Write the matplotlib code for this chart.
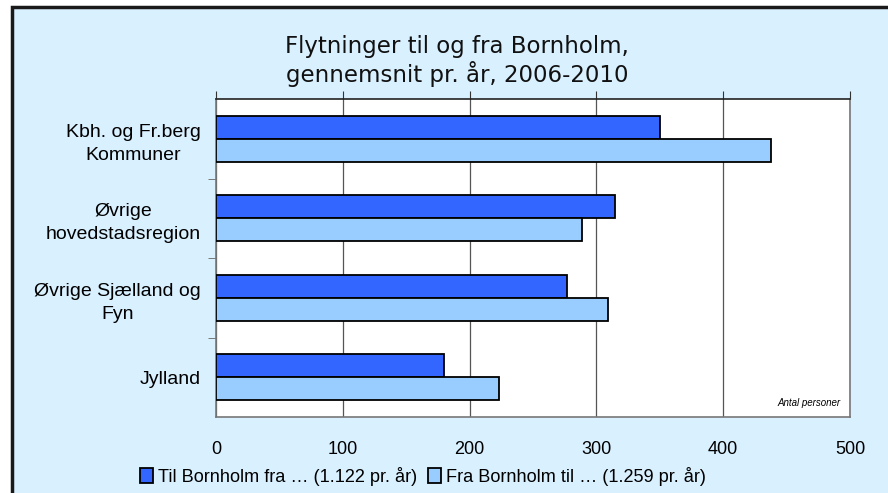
import matplotlib.pyplot as plt
import numpy as np
from matplotlib.patches import Rectangle

# data
kategorier = ["Kbh. og Fr.berg\nKommuner", "Øvrige\nhovedstadsregion",
              "Øvrige Sjælland og\nFyn", "Jylland"]
til_bornholm = [350, 315, 277, 180]
fra_bornholm = [438, 289, 309, 223]
serie_navne = ["Til Bornholm fra … (1.122 pr. år)", "Fra Bornholm til … (1.259 pr. år)"]
x_ticks = [0, 100, 200, 300, 400, 500]

plt.rcParams['font.family'] = ['Liberation Sans', 'DejaVu Sans']

fig = plt.figure(figsize=(8.88, 4.93), dpi=100, facecolor='white')
# baggrund med ramme
fig.patches.append(Rectangle((12/888, -0.1), 1.2, 1 - 7/493 + 0.1, transform=fig.transFigure,
                             facecolor='#D9F0FF', edgecolor='#1a1a1a', linewidth=2.5, zorder=-5))

ax = fig.add_axes([216/888, 1 - 417/493, (850-216)/888, (417-99)/493])
ax.set_facecolor('white')

y = np.arange(len(kategorier))
h = 0.29
ax.barh(y - h/2, til_bornholm, height=h, color='#3366FF', edgecolor='black', linewidth=1.3,
        label=serie_navne[0], zorder=3)
ax.barh(y + h/2, fra_bornholm, height=h, color='#99CCFF', edgecolor='black', linewidth=1.3,
        label=serie_navne[1], zorder=3)

ax.set_xlim(0, 500)
ax.set_ylim(len(kategorier) - 0.5, -0.5)
ax.set_xticks(x_ticks)
ax.xaxis.grid(True, color='#555555', linewidth=0.9, zorder=1)
ax.set_axisbelow(True)

# akse i toppen med streger, tal i bunden
ax.tick_params(axis='x', which='both', top=True, bottom=False, labeltop=False, labelbottom=True,
               direction='out', length=6, color='#333333', pad=11, labelsize=13)
ax.set_yticks(y)
ax.set_yticklabels(kategorier, fontsize=14, multialignment='center', linespacing=1.45)
ax.tick_params(axis='y', which='major', length=0, pad=11)
ax.set_yticks(np.arange(0.5, len(kategorier) - 1, 1), minor=True)
ax.tick_params(axis='y', which='minor', length=6, color='#666666', direction='out')

for s in ['top']:
    ax.spines[s].set_color('#222222')
    ax.spines[s].set_linewidth(1.2)
for s in ['left', 'bottom', 'right']:
    ax.spines[s].set_color('#777777')
    ax.spines[s].set_linewidth(1.2)

fig.text(457/888, 1 - 61/493, "Flytninger til og fra Bornholm,\ngennemsnit pr. år, 2006-2010",
         ha='center', va='center', fontsize=16.5, linespacing=1.1, family=['DejaVu Sans'],
         color='#111111')
ax.text(0.985, 0.045, "Antal personer", transform=ax.transAxes, ha='right', va='center',
        fontsize=7, style='italic', zorder=4)

fig.legend(loc='center left', bbox_to_anchor=(140/888, 1 - 476/493), ncol=2, frameon=False,
           fontsize=13.1, handlelength=0.7, handleheight=0.9, handletextpad=0.3,
           columnspacing=0.6, borderpad=0, borderaxespad=0)

fig.savefig('out.png', dpi=100, facecolor='white')
